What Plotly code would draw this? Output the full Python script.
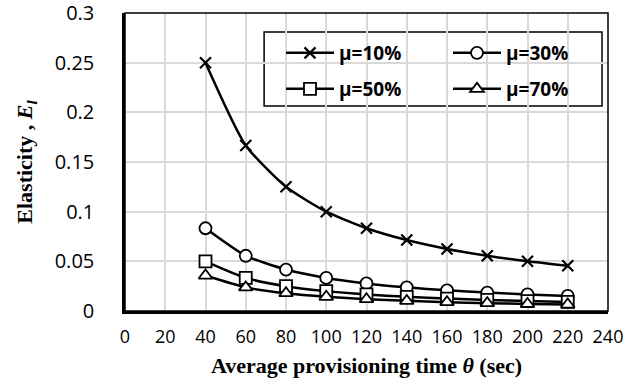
import plotly.graph_objects as go

theta = [40, 60, 80, 100, 120, 140, 160, 180, 200, 220]
mu10 = [0.25, 0.1667, 0.125, 0.1, 0.0833, 0.0714, 0.0625, 0.0556, 0.05, 0.0455]
mu30 = [0.0833, 0.0556, 0.0417, 0.0333, 0.0278, 0.0238, 0.0208, 0.0185, 0.0167, 0.0152]
mu50 = [0.05, 0.0333, 0.025, 0.02, 0.0167, 0.0143, 0.0125, 0.0111, 0.01, 0.0091]
mu70 = [0.0357, 0.0238, 0.0179, 0.0143, 0.0119, 0.0102, 0.0089, 0.0079, 0.0071, 0.0065]
series_names = ["μ=10%", "μ=30%", "μ=50%", "μ=70%"]
x_ticks = [0, 20, 40, 60, 80, 100, 120, 140, 160, 180, 200, 220, 240]
y_ticks = [0, 0.05, 0.1, 0.15, 0.2, 0.25, 0.3]

TICKFONT = "Open Sans"
SERIF = "Liberation Serif"

fig = go.Figure()
styles = [
    dict(symbol="x-thin-open", size=11, line=dict(width=2.2, color="black"), color="black"),
    dict(symbol="circle", size=12, line=dict(width=1.8, color="black"), color="white"),
    dict(symbol="square", size=12, line=dict(width=1.8, color="black"), color="white"),
    dict(symbol="triangle-up", size=12, line=dict(width=1.8, color="black"), color="white"),
]
legends = ["legend", "legend2", "legend3", "legend4"]
for name, ys, st, lg in zip(series_names, [mu10, mu30, mu50, mu70], styles, legends):
    fig.add_trace(go.Scatter(
        x=theta, y=ys, name=name, mode="lines+markers",
        line=dict(color="black", width=2.5, shape="spline", smoothing=0.6),
        marker=st, legend=lg,
    ))

# legend frame
fig.add_shape(type="rect", xref="paper", yref="paper",
              x0=0.288, x1=0.9876, y0=0.688, y1=0.936,
              line=dict(color="black", width=1.5), fillcolor="white", layer="between")
# plot frame
fig.add_shape(type="rect", xref="paper", yref="paper", x0=0, x1=1, y0=0, y1=1,
              line=dict(color="black", width=1.5), layer="above")

legfont = dict(family=TICKFONT, size=19, color="black", weight="bold")
W = 483.0
H = 298.0
def leg(px, py):
    return dict(x=(px - 125) / W, y=(311 - py) / H, xanchor="left", yanchor="middle",
                font=legfont, bgcolor="rgba(0,0,0,0)", itemwidth=48)

fig.update_layout(
    width=644, height=382,
    margin=dict(l=125, r=36, t=13, b=71),
    paper_bgcolor="white", plot_bgcolor="white",
    showlegend=True,
    legend=leg(281, 53),
    legend2=leg(448, 53),
    legend3=leg(281, 89),
    legend4=leg(448, 89),
    xaxis=dict(range=[0, 240], tickvals=x_ticks, ticktext=[str(v) for v in x_ticks],
               showgrid=True, gridcolor="#d9d9d9", gridwidth=1.5,
               showline=True, linecolor="black", linewidth=2.5,
               ticks="", ticklabelstandoff=8, automargin=False,
               tickfont=dict(family=TICKFONT, size=18, color="black"),
               zeroline=False,
               title=dict(text="<b>Average provisioning time <i>θ</i> (sec)</b>",
                          font=dict(family=SERIF, size=22, color="black"), standoff=11)),
    yaxis=dict(range=[0, 0.3], tickvals=y_ticks,
               showgrid=True, gridcolor="#d9d9d9", gridwidth=1.5,
               showline=True, linecolor="black", linewidth=2.5,
               ticks="", ticklabelstandoff=24, automargin=False,
               ticklabeloverflow="allow",
               tickfont=dict(family=TICKFONT, size=20, color="black"),
               zeroline=False,
               title=dict(text="<b>Elasticity , <i>E</i><sub><i>l</i></sub></b>",
                          font=dict(family=SERIF, size=22, color="black"), standoff=16)),
)

fig.write_html("out.html")
